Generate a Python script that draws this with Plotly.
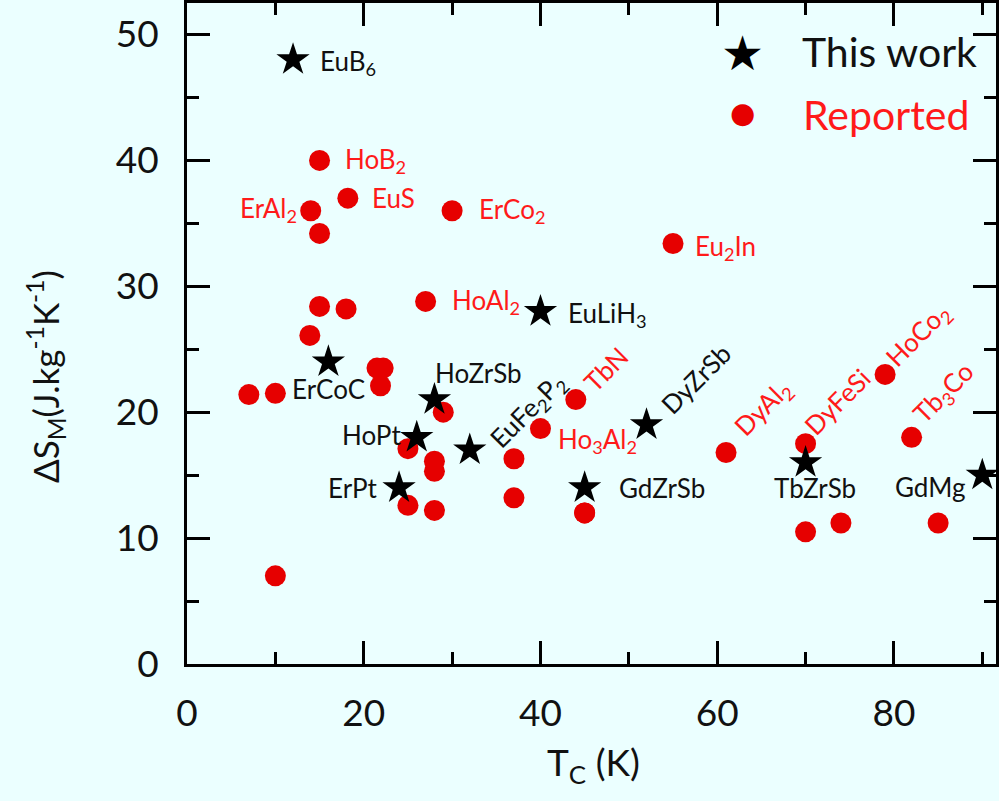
import plotly.graph_objects as go

# ---------------- data ----------------
this_names = ["EuB<sub>6</sub>", "EuLiH<sub>3</sub>", "ErCoC", "HoZrSb", "HoPt", "EuFe<sub>2</sub>P<sub>2</sub>",
              "ErPt", "DyZrSb", "GdZrSb", "TbZrSb", "GdMg"]
this_tc = [12, 40, 16, 28, 26, 32, 24, 52, 45, 70, 90]
this_ds = [48, 28, 24, 21, 18, 17, 14, 19, 14, 16, 15]

rep_names = ["HoB<sub>2</sub>", "EuS", "ErAl<sub>2</sub>", "", "ErCo<sub>2</sub>", "Eu<sub>2</sub>In",
             "HoAl<sub>2</sub>", "", "", "", "", "", "", "", "", "", "", "", "", "", "", "", "",
             "TbN", "Ho<sub>3</sub>Al<sub>2</sub>", "", "", "", "DyAl<sub>2</sub>", "DyFeSi", "", "",
             "HoCo<sub>2</sub>", "Tb<sub>3</sub>Co", ""]
rep_tc = [15, 18.2, 14, 15, 30, 55,
          27, 15, 18, 13.9, 21.5, 22.2, 21.9, 7, 10, 29, 25, 28, 28, 25, 28, 10, 37,
          44, 40, 37, 45, 45, 61, 70, 70, 74,
          79, 82, 85]
rep_ds = [40, 37, 36, 34.2, 36, 33.4,
          28.8, 28.4, 28.2, 26.1, 23.5, 23.5, 22.1, 21.4, 21.5, 20, 17.1, 16.1, 15.3, 12.6, 12.2, 7, 13.2,
          21, 18.7, 16.3, 12, 12, 16.8, 17.5, 10.5, 11.2,
          23, 18, 11.2]

x_ticks = [0, 20, 40, 60, 80]
y_ticks = [0, 10, 20, 30, 40, 50]

# ---------------- label placement (pixel offsets, anchor, angle) ----------------
this_lab = {
    "EuB<sub>6</sub>": (25, -3, "left", 0),
    "EuLiH<sub>3</sub>": (26, -3, "left", 0),
    "ErCoC": (0, -27, "center", 0),
    "HoZrSb": (-1, 27, "left", 0),
    "HoPt": (-14, 2, "right", 0),
    "EuFe<sub>2</sub>P<sub>2</sub>": (59, 39, "center", -45),
    "ErPt": (-20, 0, "right", 0),
    "DyZrSb": (49, 46, "center", -45),
    "GdZrSb": (32, 0, "left", 0),
    "TbZrSb": (9, -25, "center", 0),
    "GdMg": (-15, -12, "right", 0),
}
rep_lab = {
    "HoB<sub>2</sub>": (23, 0, "left", 0),
    "EuS": (22, 0, "left", 0),
    "ErAl<sub>2</sub>": (-12, 1, "right", 0),
    "ErCo<sub>2</sub>": (25, 0, "left", 0),
    "Eu<sub>2</sub>In": (20, -4, "left", 0),
    "HoAl<sub>2</sub>": (24, 0, "left", 0),
    "TbN": (30, 31, "center", -45),
    "Ho<sub>3</sub>Al<sub>2</sub>": (16, -12, "left", 0),
    "DyAl<sub>2</sub>": (37, 44, "center", -45),
    "DyFeSi": (31, 42, "center", -45),
    "HoCo<sub>2</sub>": (33, 39, "center", -45),
    "Tb<sub>3</sub>Co": (32, 44, "center", -45),
}

BG = "#ebffff"
RED = "#e60000"
TXT_RED = "#ff1a1a"
FONT = "Lato"

fig = go.Figure()
fig.add_trace(go.Scatter(x=rep_tc, y=rep_ds, mode="markers", name="Reported",
                         marker=dict(symbol="circle", size=21, color=RED, line=dict(width=0))))
fig.add_trace(go.Scatter(x=this_tc, y=this_ds, mode="markers", name="This work",
                         marker=dict(symbol="star", size=25, color="black", line=dict(width=0))))

ann = []
for n, x, y in zip(this_names, this_tc, this_ds):
    dx, dy, anc, ang = this_lab[n]
    ann.append(dict(x=x, y=y, xref="x", yref="y", text=n, showarrow=False, xshift=dx, yshift=dy,
                    xanchor=anc, yanchor="middle", textangle=ang,
                    font=dict(family=FONT, size=26, color="#111111")))
for n, x, y in zip(rep_names, rep_tc, rep_ds):
    if not n:
        continue
    dx, dy, anc, ang = rep_lab[n]
    ann.append(dict(x=x, y=y, xref="x", yref="y", text=n, showarrow=False, xshift=dx, yshift=dy,
                    xanchor=anc, yanchor="middle", textangle=ang,
                    font=dict(family=FONT, size=26, color=TXT_RED)))

# legend drawn as text
ann += [
    dict(x=0.6872, y=0.9245, xref="paper", yref="paper", text="★", showarrow=False,
         xanchor="center", yanchor="middle", font=dict(family="DejaVu Sans", size=48, color="black")),
    dict(x=0.7574, y=0.926, xref="paper", yref="paper", text="This work", showarrow=False,
         xanchor="left", yanchor="middle", font=dict(family=FONT, size=41, color="#111111")),
    dict(x=0.6872, y=0.8338, xref="paper", yref="paper", text="●", showarrow=False,
         xanchor="center", yanchor="middle", font=dict(family="DejaVu Sans", size=29, color=RED)),
    dict(x=0.7586, y=0.832, xref="paper", yref="paper", text="Reported", showarrow=False,
         xanchor="left", yanchor="middle", font=dict(family=FONT, size=41, color=TXT_RED)),
    # axis titles
    dict(x=0.5025, y=-0.1526, xref="paper", yref="paper", text="T<sub>C</sub> (K)", showarrow=False,
         xanchor="center", yanchor="middle", font=dict(family=FONT, size=37, color="#111111")),
    dict(x=-0.1749, y=0.435, xref="paper", yref="paper",
         text="ΔS<sub>M</sub>(J.kg<sup>-1</sup>K<sup>-1</sup>)", showarrow=False, textangle=-90,
         xanchor="center", yanchor="middle", font=dict(family=FONT, size=35, color="#111111")),
]

axis_common = dict(showline=True, linewidth=3, linecolor="black", mirror="ticks",
                   ticks="inside", tickwidth=2.5, tickcolor="black", ticklen=23,
                   showgrid=False, zeroline=False,
                   tickfont=dict(family=FONT, size=37, color="#111111"))

fig.update_layout(
    width=999, height=801,
    margin=dict(l=187, r=0, t=2, b=137),
    paper_bgcolor=BG, plot_bgcolor=BG,
    showlegend=False,
    annotations=ann,
    xaxis=dict(range=[0, 91.55], tickvals=x_ticks, ticktext=[str(v) for v in x_ticks],
               minor=dict(dtick=10, tick0=0, ticks="inside", ticklen=12, tickwidth=2.5, tickcolor="black"),
               ticklabelstandoff=15, **axis_common),
    yaxis=dict(range=[0, 52.5], tickvals=y_ticks, ticktext=[str(v) for v in y_ticks],
               minor=dict(dtick=5, tick0=0, ticks="inside", ticklen=12, tickwidth=2.5, tickcolor="black"),
               ticklabelstandoff=18, **axis_common),
)

fig.write_html("out.html")
